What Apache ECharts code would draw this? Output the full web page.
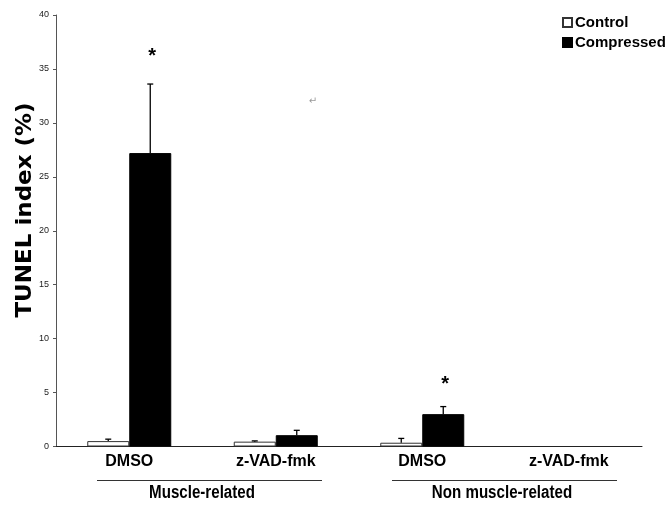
<!DOCTYPE html>
<html>
<head>
<meta charset="utf-8">
<script src="https://cdn.jsdelivr.net/npm/echarts@6/dist/echarts.min.js"></script>
<style>html,body{margin:0;padding:0;background:#fff}#c{width:667px;height:506px}</style>
</head>
<body>
<div id="c"></div>
<script>
var categories = ['DMSO', 'z-VAD-fmk', 'DMSO', 'z-VAD-fmk'];
var groupLabels = ['Muscle-related', 'Non muscle-related'];
var controlValues = [0.5, 0.45, 0.35, null];
var controlErrTop = [0.68, 0.52, 0.75, null];
var compressedValues = [27.2, 1.05, 3.0, null];
var compressedErrTop = [33.6, 1.5, 3.7, null];
var starValues = [36.6, null, 6.2, null];
var yTicks = [0, 5, 10, 15, 20, 25, 30, 35, 40];

var chart = echarts.init(document.getElementById('c'));
var sans = '"Liberation Sans", Arial, sans-serif';
var BW = 42;

function errData(vals, side) {
  var out = [];
  for (var i = 0; i < vals.length; i++) {
    if (vals[i] != null) out.push([i, vals[i], side, starValues[i]]);
  }
  return out;
}

function renderErr(params, api) {
  var cat = api.value(0), top = api.value(1), side = api.value(2);
  var c = api.coord([cat, top]);
  var x = c[0] + side * BW / 2;
  var base = api.coord([cat, side < 0 ? controlValues[cat] : compressedValues[cat]]);
  var children = [
    {type: 'line', shape: {x1: x, y1: base[1], x2: x, y2: c[1]}, style: {stroke: '#000', lineWidth: 1.3}},
    {type: 'line', shape: {x1: x - 3, y1: c[1], x2: x + 3, y2: c[1]}, style: {stroke: '#000', lineWidth: 1.3}}
  ];
  var star = api.value(3);
  if (side > 0 && !isNaN(star) && star != null) {
    var s = api.coord([cat, star]);
    children.push({type: 'text', style: {x: x + 2, y: s[1] + 5, text: '*', fill: '#000', font: 'bold 20px ' + sans, align: 'center', verticalAlign: 'middle'}});
  }
  return {type: 'group', children: children};
}

chart.setOption({
  animation: false,
  backgroundColor: '#fff',
  grid: {left: 56, right: 25, top: 15, bottom: 59.5},
  legend: {
    orient: 'vertical', left: 557, top: 10, itemWidth: 9, itemHeight: 9, itemGap: 5,
    icon: 'rect',
    textStyle: {fontFamily: sans, fontWeight: 'bold', fontSize: 15, color: '#000', lineHeight: 15, padding: [0, 0, 0, -2]},
    data: ['Control', 'Compressed']
  },
  xAxis: {
    type: 'category', data: categories,
    axisLine: {lineStyle: {color: '#222', width: 1}},
    axisTick: {length: 4, lineStyle: {color: '#222'}},
    axisLabel: {fontFamily: sans, fontWeight: 'bold', fontSize: 16, color: '#000', margin: 7}
  },
  yAxis: {
    type: 'value', min: 0, max: 40, interval: 5,
    splitLine: {show: false},
    axisLine: {show: true, lineStyle: {color: '#555'}},
    axisTick: {show: true, length: 3, lineStyle: {color: '#555'}},
    axisLabel: {fontFamily: sans, fontSize: 9, color: '#222', margin: 7,
      formatter: function (v) { return yTicks.indexOf(v) >= 0 ? String(v) : ''; }}
  },
  series: [
    {name: 'Control', type: 'bar', data: controlValues, barWidth: BW, barGap: '0%',
     itemStyle: {color: '#fff', borderColor: '#333', borderWidth: 1}},
    {name: 'Compressed', type: 'bar', data: compressedValues, barWidth: BW, barGap: '0%',
     itemStyle: {color: '#000', borderColor: '#000', borderWidth: 1}},
    {type: 'custom', renderItem: renderErr, data: errData(controlErrTop, -1), z: 5, silent: true},
    {type: 'custom', renderItem: renderErr, data: errData(compressedErrTop, 1), z: 5, silent: true}
  ],
  graphic: [
    {type: 'text', x: 26, y: 210, rotation: Math.PI / 2, style: {text: 'TUNEL index (%)', font: 'bold 23px "DejaVu Sans"', fill: '#000', align: 'center', verticalAlign: 'middle'}, scaleY: 0.9},
    {type: 'line', shape: {x1: 97, y1: 480.5, x2: 322, y2: 480.5}, style: {stroke: '#333', lineWidth: 1}},
    {type: 'line', shape: {x1: 392, y1: 480.5, x2: 617, y2: 480.5}, style: {stroke: '#333', lineWidth: 1}},
    {type: 'text', x: 202, y: 493, scaleX: 0.84, style: {text: groupLabels[0], font: 'bold 18px ' + sans, fill: '#000', align: 'center', verticalAlign: 'middle'}},
    {type: 'text', x: 502, y: 493, scaleX: 0.84, style: {text: groupLabels[1], font: 'bold 18px ' + sans, fill: '#000', align: 'center', verticalAlign: 'middle'}},
    {type: 'text', x: 313, y: 101, style: {text: '\u21B5', font: '10px "DejaVu Sans"', fill: '#999', align: 'center', verticalAlign: 'middle'}}
  ]
});
</script>
</body>
</html>
